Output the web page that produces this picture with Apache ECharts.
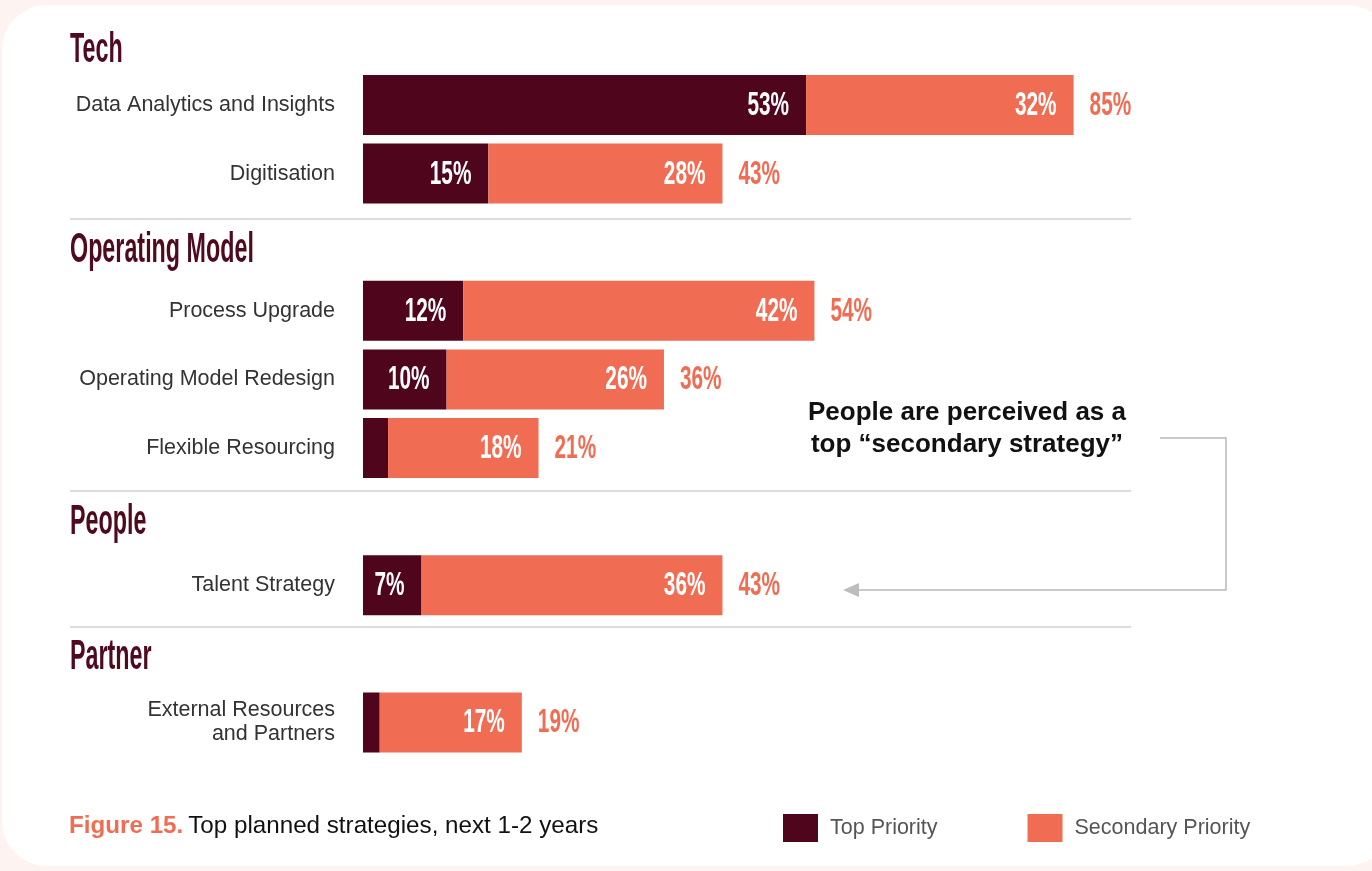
<!DOCTYPE html>
<html><head><meta charset="utf-8">
<script src="https://cdn.jsdelivr.net/npm/echarts@6/dist/echarts.min.js"></script>
<style>html,body{margin:0;padding:0;background:#fdf3f0}#c{width:1372px;height:871px}</style>
</head><body><div id="c"></div>
<script>
// ---- data ----
const categories = ['Data Analytics and Insights','Digitisation','','Process Upgrade','Operating Model Redesign','Flexible Resourcing','','Talent Strategy','','External Resources\nand Partners'];
const topPriority = [53, 15, null, 12, 10, 3, null, 7, null, 2];
const secondaryPriority = [32, 28, null, 42, 26, 18, null, 36, null, 17];
const totals = [85, 43, null, 54, 36, 21, null, 43, null, 19];
const groupHeadings = ['Tech', 'Operating Model', 'People', 'Partner'];
const seriesNames = ['Top Priority', 'Secondary Priority'];

const DARK = '#4f051b', CORAL = '#f06d53', HEAD = '#4f0a1e';
const FONT = "'Liberation Sans', Arial, sans-serif";

const labelData = categories.map((c, i) => [i, topPriority[i], secondaryPriority[i], totals[i]]).filter(d => d[3] != null);

function condText(x, y, text, color, align) {
  return { type: 'text', x: x, y: y + 1, scaleX: 0.63,
    style: { text: text, x: 0, y: 0, align: align, verticalAlign: 'middle', fill: color,
      font: "bold 33px " + FONT } };
}

const chart = echarts.init(document.getElementById('c'), null, { renderer: 'canvas' });
const headingY = [50, 250, 522, 657];
const option = {
  backgroundColor: '#fdf3f0',
  animation: false,
  title: {
    left: 69, top: 814, padding: 0,
    text: '{a|Figure 15.} {b|Top planned strategies, next 1-2 years}',
    textStyle: { rich: {
      a: { fontFamily: FONT, fontSize: 24.2, fontWeight: 'bold', color: CORAL },
      b: { fontFamily: FONT, fontSize: 24.2, fontWeight: 'normal', color: '#111' } } }
  },
  legend: {
    left: 783, top: 814, padding: 0, itemWidth: 35, itemHeight: 28, itemGap: 90,
    icon: 'rect', data: seriesNames,
    textStyle: { fontFamily: FONT, fontSize: 21.5, color: '#555', padding: [0, 0, 0, 7] }
  },
  grid: { left: 363, width: 836, top: 70.7, bottom: 114.3 },
  xAxis: { type: 'value', min: 0, max: 100, show: false },
  yAxis: {
    type: 'category', data: categories, inverse: true,
    axisLine: { show: false }, axisTick: { show: false }, splitLine: { show: false },
    axisLabel: { margin: 28, fontFamily: FONT, fontSize: 21.5, color: '#333', lineHeight: 24 }
  },
  graphic: [
    { type: 'rect', z: -10, shape: { x: 2, y: 5, width: 1390, height: 861, r: 45 }, style: { fill: '#ffffff' } },
    ...groupHeadings.map((h, i) => ({
      type: 'text', x: 70, y: headingY[i], scaleX: 0.555, z: 5,
      style: { text: h, x: 0, y: 0, verticalAlign: 'middle', fill: HEAD, font: "bold 42px " + FONT }
    })),
    ...[219, 491, 627].map(y => ({
      type: 'line', z: 5, shape: { x1: 70, y1: y, x2: 1131, y2: y }, style: { stroke: '#dcdcdc', lineWidth: 2 }
    })),
    { type: 'text', x: 967, y: 429, z: 5,
      style: { text: 'People are perceived as a\ntop \u201csecondary strategy\u201d', align: 'center', verticalAlign: 'middle',
        fill: '#111', font: "bold 26px " + FONT, lineHeight: 32 } },
    { type: 'polyline', z: 5, shape: { points: [[1160, 438], [1226, 438], [1226, 590], [857, 590]] },
      style: { stroke: '#b8b8b8', lineWidth: 1.5, fill: null } },
    { type: 'polygon', z: 5, shape: { points: [[843, 590], [859, 583], [859, 597]] }, style: { fill: '#bdbdbd' } }
  ],
  series: [
    { name: seriesNames[0], type: 'bar', stack: 's', barWidth: 60, data: topPriority,
      itemStyle: { color: DARK }, emphasis: { disabled: true } },
    { name: seriesNames[1], type: 'bar', stack: 's', barWidth: 60, data: secondaryPriority,
      itemStyle: { color: CORAL }, emphasis: { disabled: true } },
    { name: 'labels', type: 'custom', data: labelData, z: 10, silent: true,
      renderItem: function (params, api) {
        const cat = api.value(0), t = api.value(1), s = api.value(2), tot = api.value(3);
        const y = api.coord([0, cat])[1];
        const children = [];
        if (t >= 5) children.push(condText(api.coord([t, cat])[0] - 17, y, t + '%', '#fff', 'right'));
        children.push(condText(api.coord([t + s, cat])[0] - 17, y, s + '%', '#fff', 'right'));
        children.push(condText(api.coord([tot, cat])[0] + 16, y, tot + '%', CORAL, 'left'));
        return { type: 'group', children: children };
      } }
  ]
};
chart.setOption(option);
</script></body></html>
